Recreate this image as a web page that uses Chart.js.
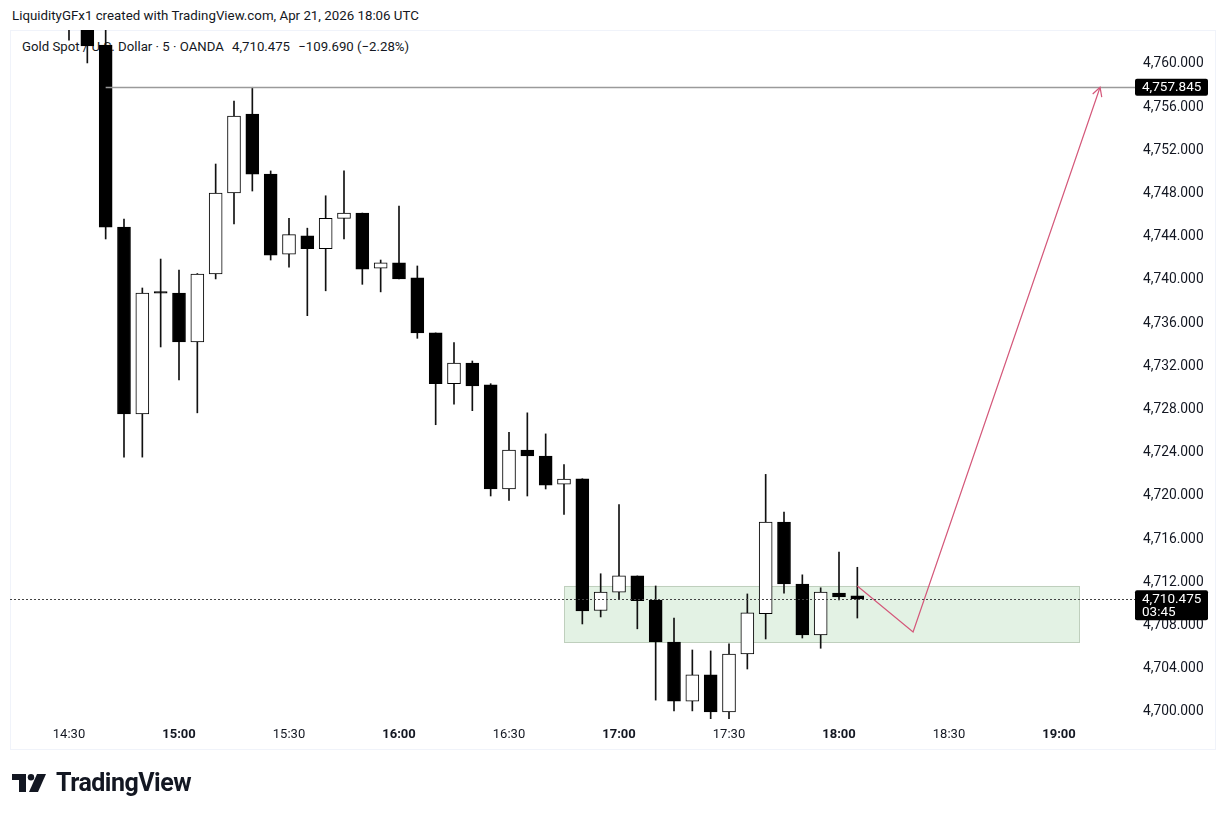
<!DOCTYPE html>
<html>
<head>
<meta charset="utf-8">
<script src="https://cdn.jsdelivr.net/npm/chart.js@4.4.1/dist/chart.umd.min.js"></script>
<style>
  body { margin: 0; background: #fff; font-family: Roboto, "Noto Sans", sans-serif; color: #131722; }
  #wrap { position: relative; width: 1227px; height: 816px; overflow: hidden; }
  #pane { position: absolute; left: 10px; top: 30px; width: 1206px; height: 720px; border: 1px solid #f0f3fa; box-sizing: border-box; }
  #hdr { position: absolute; left: 12px; top: 8px; font-size: 13.3px; white-space: nowrap; }
  #legend { position: absolute; left: 22px; top: 39px; font-size: 13.2px; white-space: nowrap; }
  #legend span { margin-left: 5px; }
  #chart { position: absolute; left: 0; top: 0; }
  #logo { position: absolute; left: 12px; top: 768px; display: flex; align-items: center; }
  #logo b { font-size: 25px; font-weight: 700; letter-spacing: -0.5px; margin-left: 8px; }
</style>
</head>
<body>
<div id="wrap">
  <div id="pane"></div>
  <div id="hdr">LiquidityGFx1 created with TradingView.com, Apr 21, 2026 18:06 UTC</div>
  <div id="legend">Gold Spot / U.S. Dollar · 5 · OANDA <span>4,710.475</span> <span>−109.690 (−2.28%)</span></div>
  <canvas id="chart" width="1227" height="816"></canvas>
  <div id="logo">
    <svg width="36" height="18" viewBox="0 0 36 18">
      <path d="M0 0 H14 V18 H7 V6 H0 Z" fill="#131722"/>
      <circle cx="19" cy="3.2" r="3.2" fill="#131722"/>
      <path d="M25 0 H34 L26 18 H17 Z" fill="#131722"/>
    </svg>
    <b>TradingView</b>
  </div>
</div>
<script>
// 5 minute candles, XAUUSD (OANDA)
var times = ["14:30","14:35","14:40","14:45","14:50","14:55","15:00","15:05","15:10","15:15",
             "15:20","15:25","15:30","15:35","15:40","15:45","15:50","15:55","16:00","16:05",
             "16:10","16:15","16:20","16:25","16:30","16:35","16:40","16:45","16:50","16:55",
             "17:00","17:05","17:10","17:15","17:20","17:25","17:30","17:35","17:40","17:45",
             "17:50","17:55","18:00","18:05"];
var opens  = [4764.8, 4763.4, 4761.76, 4744.9, 4727.6, 4738.85, 4738.8, 4734.26, 4740.56, 4748.06,
              4755.37, 4749.8, 4742.4, 4744.1, 4742.9, 4745.7, 4746.2, 4741.1, 4741.6, 4740.2,
              4735.1, 4730.4, 4732.3, 4730.3, 4720.65, 4724.26, 4723.7, 4721.1, 4721.6, 4709.4,
              4711.1, 4712.6, 4710.37, 4706.48, 4701.0, 4703.43, 4700.0, 4705.37, 4709.1, 4717.59,
              4711.85, 4707.13, 4711.0, 4710.75];
var highs  = [4766.0, 4764.0, 4764.0, 4745.65, 4739.26, 4741.94, 4740.93, 4740.6, 4750.74, 4756.57,
              4757.845, 4750.1, 4745.7, 4744.8, 4747.8, 4750.1, 4746.2, 4741.85, 4746.85, 4741.3,
              4735.1, 4734.2, 4732.5, 4730.4, 4725.9, 4727.7, 4725.75, 4722.9, 4721.6, 4712.8,
              4719.2, 4712.6, 4711.67, 4708.7, 4705.74, 4705.65, 4706.3, 4710.93, 4722.0, 4718.5,
              4712.7, 4711.5, 4714.8, 4713.4];
var lows   = [4762.2, 4760.1, 4743.8, 4723.6, 4723.6, 4733.8, 4730.74, 4727.7, 4740.1, 4745.19,
              4748.24, 4741.85, 4741.2, 4736.7, 4739.0, 4743.8, 4739.6, 4738.9, 4740.1, 4734.6,
              4726.6, 4728.5, 4727.9, 4720.0, 4719.6, 4720.0, 4720.65, 4718.3, 4708.15, 4708.8,
              4710.4, 4707.7, 4701.1, 4700.1, 4700.1, 4699.35, 4699.35, 4703.98, 4706.76, 4711.0,
              4706.85, 4705.9, 4710.37, 4708.7];
var closes = [4763.3, 4761.67, 4744.9, 4727.6, 4738.8, 4738.78, 4734.26, 4740.56, 4748.06, 4755.19,
              4749.81, 4742.3, 4744.2, 4742.9, 4745.7, 4746.2, 4741.0, 4741.6, 4740.1, 4735.1,
              4730.4, 4732.3, 4730.2, 4720.65, 4724.26, 4723.7, 4721.0, 4721.57, 4709.35, 4711.1,
              4712.6, 4710.3, 4706.48, 4701.0, 4703.43, 4700.0, 4705.37, 4709.17, 4717.59, 4711.85,
              4707.13, 4711.1, 4710.65, 4710.475];

// axis ticks
var timeTicks = ["14:30","15:00","15:30","16:00","16:30","17:00","17:30","18:00","18:30","19:00"];
var priceTicks = [4700,4704,4708,4712,4716,4720,4724,4728,4732,4736,4740,4744,4748,4752,4756,4760];

// drawings (time in minutes of day)
var zoneTimes = [1005, 1145.5];
var zonePrices = [4706.48, 4711.67];
var pathTimes = [1085, 1100.2, 1151.2];
var pathPrices = [4711.67, 4707.41, 4757.845];
var rayStart = 880;
var rayPrice = 4757.845;
var lastPrice = 4710.475;
var countdown = "03:45";

function toMin(s) { var p = s.split(":"); return Number(p[0]) * 60 + Number(p[1]); }
function fmtTime(v) {
  var h = Math.floor(v / 60), m = Math.round(v % 60);
  return h + ":" + (m < 10 ? "0" + m : m);
}
function fmtPrice(v) {
  return v.toLocaleString("en-US", { minimumFractionDigits: 3, maximumFractionDigits: 3 });
}

var candleX = times.map(toMin);
var bodies = candleX.map(function(t, i) { return { x: t, y: [opens[i], closes[i]] }; });
var wicks = candleX.map(function(t, i) { return { x: t, y: [lows[i], highs[i]] }; });
var bodyColors = opens.map(function(o, i) { return closes[i] >= o ? "#ffffff" : "#000000"; });
var path = pathTimes.map(function(t, i) { return { x: t, y: pathPrices[i] }; });

function priceTag(ctx, x, y, lines) {
  var h = lines.length * 13 + 4;
  ctx.fillStyle = "#000";
  ctx.beginPath();
  ctx.roundRect(x, y - 8.5, 73, h, 2);
  ctx.fill();
  ctx.fillStyle = "#fff";
  ctx.font = "13.5px Roboto";
  ctx.textAlign = "left";
  ctx.textBaseline = "middle";
  for (var i = 0; i < lines.length; i++) ctx.fillText(lines[i], x + 7, y + i * 13 + 0.5);
}

var drawings = {
  id: "drawings",
  beforeDatasetsDraw: function(chart) {
    var ctx = chart.ctx, xs = chart.scales.x, ys = chart.scales.y;
    var x0 = xs.getPixelForValue(zoneTimes[0]), x1 = xs.getPixelForValue(zoneTimes[1]);
    var y0 = ys.getPixelForValue(zonePrices[1]), y1 = ys.getPixelForValue(zonePrices[0]);
    ctx.save();
    ctx.fillStyle = "rgba(200, 230, 201, 0.5)";
    ctx.fillRect(x0, y0, x1 - x0, y1 - y0);
    ctx.strokeStyle = "#bfcfbd";
    ctx.lineWidth = 1;
    ctx.strokeRect(Math.round(x0) + 0.5, Math.round(y0) + 0.5, Math.round(x1 - x0), Math.round(y1 - y0));
    ctx.restore();
  },
  afterDatasetsDraw: function(chart) {
    var ctx = chart.ctx, xs = chart.scales.x, ys = chart.scales.y, a = chart.chartArea;
    ctx.save();
    // horizontal ray
    var ry = Math.round(ys.getPixelForValue(rayPrice)) + 0.5;
    ctx.strokeStyle = "#9a9a9a";
    ctx.lineWidth = 1.3;
    ctx.beginPath();
    ctx.moveTo(xs.getPixelForValue(rayStart), ry);
    ctx.lineTo(a.right + 2, ry);
    ctx.stroke();
    // last price dotted line
    var ly = Math.round(ys.getPixelForValue(lastPrice)) + 0.5;
    ctx.strokeStyle = "#444";
    ctx.lineWidth = 1;
    ctx.setLineDash([2, 2]);
    ctx.beginPath();
    ctx.moveTo(a.left, ly);
    ctx.lineTo(a.right + 2, ly);
    ctx.stroke();
    ctx.setLineDash([]);
    // arrow head at the end of the path
    var n = pathTimes.length;
    var tx = xs.getPixelForValue(pathTimes[n - 1]), ty = ys.getPixelForValue(pathPrices[n - 1]);
    var fx = xs.getPixelForValue(pathTimes[n - 2]), fy = ys.getPixelForValue(pathPrices[n - 2]);
    var ang = Math.atan2(ty - fy, tx - fx);
    ctx.strokeStyle = "#d4587a";
    ctx.lineWidth = 1.2;
    ctx.beginPath();
    ctx.moveTo(tx - 10 * Math.cos(ang - 0.5), ty - 10 * Math.sin(ang - 0.5));
    ctx.lineTo(tx, ty);
    ctx.lineTo(tx - 10 * Math.cos(ang + 0.5), ty - 10 * Math.sin(ang + 0.5));
    ctx.stroke();
    ctx.restore();
  },
  afterDraw: function(chart) {
    var ctx = chart.ctx, ys = chart.scales.y, a = chart.chartArea;
    ctx.save();
    priceTag(ctx, a.right + 2, ys.getPixelForValue(rayPrice), [fmtPrice(rayPrice)]);
    priceTag(ctx, a.right + 2, ys.getPixelForValue(lastPrice), [fmtPrice(lastPrice), countdown]);
    ctx.restore();
  }
};

new Chart(document.getElementById("chart"), {
  type: "bar",
  data: {
    datasets: [
      {
        type: "line",
        data: path,
        borderColor: "#d4587a",
        borderWidth: 1.2,
        pointRadius: 0,
        tension: 0,
        order: -1
      },
      {
        data: bodies,
        backgroundColor: bodyColors,
        borderColor: "#000",
        borderWidth: 1,
        borderSkipped: false,
        barThickness: 13,
        minBarLength: 1.5,
        grouped: false,
        clip: 0,
        order: 0
      },
      {
        data: wicks,
        backgroundColor: "#111",
        borderWidth: 0,
        barThickness: 1,
        grouped: false,
        clip: 0,
        order: 1
      }
    ]
  },
  options: {
    responsive: false,
    animation: false,
    layout: { padding: { left: 10, right: 0, top: 30, bottom: 69 } },
    plugins: { legend: { display: false }, tooltip: { enabled: false } },
    scales: {
      x: {
        type: "linear",
        min: 853.91,
        max: 1160.18,
        offset: false,
        grid: { display: false, drawTicks: false },
        border: { display: false },
        afterBuildTicks: function(s) { s.ticks = timeTicks.map(function(t) { return { value: toMin(t) }; }); },
        afterFit: function(s) { s.height = 28; },
        ticks: {
          autoSkip: false,
          maxRotation: 0,
          padding: 8,
          color: "#131722",
          font: function(c) {
            var bold = c.tick && c.tick.value % 60 === 0;
            return { family: "Roboto", size: 13, weight: bold ? "bold" : "normal" };
          },
          callback: function(v) { return fmtTime(v); }
        }
      },
      y: {
        type: "linear",
        position: "right",
        min: 4699.35,
        max: 4763.15,
        grid: { display: false, drawTicks: false },
        border: { display: false },
        afterBuildTicks: function(s) { s.ticks = priceTicks.map(function(v) { return { value: v }; }); },
        afterFit: function(s) { s.width = 94; },
        ticks: {
          autoSkip: false,
          padding: 10,
          color: "#131722",
          font: { family: "Roboto", size: 13.8 },
          callback: function(v) { return fmtPrice(v); }
        }
      }
    }
  },
  plugins: [drawings]
});
</script>
</body>
</html>
